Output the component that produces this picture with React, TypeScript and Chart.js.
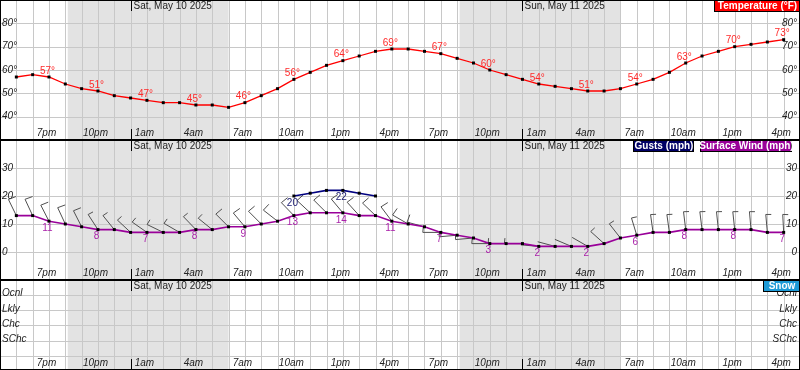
import React, { useEffect, useRef } from 'react';
import { Chart, registerables } from 'chart.js';
Chart.register(...registerables);

// Hours are counted from 5pm Fri May 9 (index 0) to 4pm Sun May 11 (index 47)
const temperature = [57, 58, 57, 54, 52, 51, 49, 48, 47, 46, 46, 45, 45, 44, 46, 49, 52, 56, 59, 62, 64, 66, 68, 69, 69, 68, 67, 65, 63, 60, 58, 56, 54, 53, 52, 51, 51, 52, 54, 56, 59, 63, 66, 68, 70, 71, 72, 73];
const surfaceWind = [13, 13, 11, 10, 9, 8, 8, 7, 7, 7, 7, 8, 8, 9, 9, 10, 11, 13, 14, 14, 14, 13, 13, 11, 10, 9, 7, 6, 5, 3, 3, 3, 2, 2, 2, 2, 3, 5, 6, 7, 7, 8, 8, 8, 8, 8, 7, 7];
const gusts: (number | null)[] = [null, null, null, null, null, null, null, null, null, null, null, null, null, null, null, null, null, 20, 21, 22, 22, 21, 20, null, null, null, null, null, null, null, null, null, null, null, null, null, null, null, null, null, null, null, null, null, null, null, null, null];
const windDirection = [334, 335, 333, 335, 333, 327, 321, 313, 305, 296, 300, 316, 309, 315, 320, 315, 308, 316, 313, 315, 320, 318, 314, 323, 300, 285, 270, 265, 265, 270, 270, 270, 275, 285, 293, 300, 312, 322, 343, 352, 352, 353, 353, 354, 354, 355, 355, 357];

const tickLabels = ['7pm', '10pm', '1am', '4am', '7am', '10am', '1pm', '4pm', '7pm', '10pm', '1am', '4am', '7am', '10am', '1pm', '4pm'];
const firstTickIndex = 2;
const tickEvery = 3;
const dayNames = ['Sat, May 10 2025', 'Sun, May 11 2025'];
const dayStartIndex = [7, 31];
const nightStart = [3.15, 27.15];
const nightEnd = [13, 37];

const tempTicks = [40, 50, 60, 70, 80];
const windTicks = [0, 10, 20, 30];
const chanceNames = ['SChc', 'Chc', 'Lkly', 'Ocnl'];
const chanceLevels = [2, 3, 4, 5];

const GRID = '#c8c8c8';
const NIGHT = '#e3e3e3';
const FAM = '"Liberation Sans", Arial, sans-serif';
const F_IT = `italic 10px ${FAM}`;
const F_REG = `10px ${FAM}`;
const F_BOLD = `bold 10px ${FAM}`;

type Legend = { text: string; color: string; left: number; right: number };
type PointLabels = { values: (number | null)[]; color: string; dy: number };
type PanelCfg = {
  name: string;
  gridValues: number[];
  yLabels: { v: number; text: string }[];
  legends: Legend[];
  pointLabels: PointLabels[];
  barbs?: boolean;
};

function drawBarb(ctx: CanvasRenderingContext2D, x0: number, y0: number, mph: number, dir: number) {
  const L = 18;
  const rad = (dir * Math.PI) / 180;
  const ux = Math.sin(rad), uy = -Math.cos(rad);
  const ex = x0 + ux * L, ey = y0 + uy * L;
  ctx.beginPath();
  ctx.moveTo(x0, y0);
  ctx.lineTo(ex, ey);
  const kt = mph * 0.869;
  let r = Math.round(kt / 5) * 5;
  const b = ((dir + 95) * Math.PI) / 180;
  const bx = Math.sin(b), by = -Math.cos(b);
  let pos = 0;
  while (r >= 10) {
    const sx = ex - ux * pos, sy = ey - uy * pos;
    ctx.moveTo(sx, sy);
    ctx.lineTo(sx + bx * 8, sy + by * 8);
    pos += 3;
    r -= 10;
  }
  if (r >= 5) {
    const sx = ex - ux * pos, sy = ey - uy * pos;
    ctx.moveTo(sx, sy);
    ctx.lineTo(sx + bx * 5.5, sy + by * 5.5);
  }
  ctx.stroke();
}

function panelPlugin(cfg: PanelCfg) {
  return {
    id: 'panel_' + cfg.name,
    beforeDraw(chart: any) {
      const { ctx, chartArea: a, scales } = chart;
      const x = scales.x, y = scales.y;
      ctx.save();
      ctx.fillStyle = '#fff';
      ctx.fillRect(0, 0, chart.width, chart.height);
      ctx.fillStyle = NIGHT;
      nightStart.forEach((s, k) => {
        const x0 = x.getPixelForValue(s), x1 = x.getPixelForValue(nightEnd[k]);
        ctx.fillRect(x0, a.top, x1 - x0, a.bottom - a.top);
      });
      ctx.strokeStyle = GRID;
      ctx.lineWidth = 1;
      ctx.beginPath();
      for (let h = -1; h <= 48; h++) {
        const xx = Math.round(x.getPixelForValue(h)) + 0.5;
        ctx.moveTo(xx, a.top);
        ctx.lineTo(xx, a.bottom);
      }
      cfg.gridValues.forEach((v) => {
        const yy = Math.round(y.getPixelForValue(v)) + 0.5;
        ctx.moveTo(a.left, yy);
        ctx.lineTo(a.right, yy);
      });
      ctx.stroke();
      if (cfg.barbs) {
        ctx.strokeStyle = '#505050';
        ctx.lineWidth = 1;
        surfaceWind.forEach((s, i) => {
          drawBarb(ctx, x.getPixelForValue(i), y.getPixelForValue(s), s, windDirection[i]);
        });
      }
      ctx.restore();
    },
    afterDatasetsDraw(chart: any) {
      const { ctx, chartArea: a, scales } = chart;
      const x = scales.x, y = scales.y;
      ctx.save();
      // point value labels
      ctx.font = F_REG;
      ctx.textAlign = 'center';
      ctx.textBaseline = 'middle';
      cfg.pointLabels.forEach((pl) => {
        ctx.fillStyle = pl.color;
        for (let i = firstTickIndex; i < pl.values.length; i += tickEvery) {
          const v = pl.values[i];
          if (v === null || v === undefined) continue;
          const suffix = cfg.name === 'temp' ? '°' : '';
          ctx.fillText(String(v) + suffix, x.getPixelForValue(i) - 1.5, y.getPixelForValue(v) + pl.dy);
        }
      });
      // tick labels
      ctx.font = F_IT;
      ctx.fillStyle = '#222';
      tickLabels.forEach((t, k) => {
        const idx = firstTickIndex + k * tickEvery;
        ctx.fillText(t, x.getPixelForValue(idx) - 2.5, a.bottom - 6.5);
      });
      // day labels and midnight bars
      ctx.strokeStyle = '#000';
      ctx.lineWidth = 1;
      dayStartIndex.forEach((d, k) => {
        const xx = Math.round(x.getPixelForValue(d)) + 0.5;
        ctx.beginPath();
        ctx.moveTo(xx, a.top);
        ctx.lineTo(xx, a.top + 11);
        ctx.moveTo(xx, a.bottom - 11);
        ctx.lineTo(xx, a.bottom - 1);
        ctx.stroke();
        ctx.font = F_REG;
        ctx.textAlign = 'left';
        ctx.fillStyle = '#222';
        ctx.fillText(dayNames[k], xx + 2, a.top + 6.5);
      });
      // y labels both sides
      ctx.font = F_IT;
      ctx.fillStyle = '#222';
      cfg.yLabels.forEach((l) => {
        const yy = y.getPixelForValue(l.v);
        ctx.textAlign = 'left';
        ctx.fillText(l.text, 2, yy);
        ctx.textAlign = 'right';
        ctx.fillText(l.text, a.right - 3, yy);
      });
      // legend boxes
      ctx.font = F_BOLD;
      ctx.textAlign = 'center';
      cfg.legends.forEach((lg) => {
        ctx.fillStyle = lg.color;
        ctx.fillRect(lg.left, a.top, lg.right - lg.left, 12);
        ctx.strokeStyle = '#000';
        ctx.strokeRect(lg.left - 0.5, a.top + 0.5, lg.right - lg.left, 11);
        ctx.fillStyle = '#fff';
        ctx.fillText(lg.text, (lg.left + lg.right) / 2, a.top + 6.5);
      });
      ctx.restore();
    },
  };
}

function baseOptions(ymin: number, ymax: number): any {
  return {
    responsive: false,
    animation: false,
    events: [],
    layout: { padding: 0, autoPadding: false },
    plugins: { legend: { display: false }, tooltip: { enabled: false } },
    scales: {
      x: { type: 'linear', display: false, min: -1, max: 48 },
      y: { type: 'linear', display: false, min: ymin, max: ymax },
    },
  };
}

const pts = (arr: (number | null)[]) => arr.map((v, i) => ({ x: i, y: v }));

export default function App() {
  const r1 = useRef<HTMLCanvasElement>(null);
  const r2 = useRef<HTMLCanvasElement>(null);
  const r3 = useRef<HTMLCanvasElement>(null);

  useEffect(() => {
    const pointStyle = { pointStyle: 'rect', pointRadius: 2.1, pointBackgroundColor: '#000', pointBorderWidth: 0, tension: 0 };
    const c1 = new Chart(r1.current!, {
      type: 'line',
      data: { datasets: [{ data: pts(temperature), borderColor: '#ff0000', borderWidth: 1.3, ...pointStyle } as any] },
      options: baseOptions(30, 90),
      plugins: [panelPlugin({
        name: 'temp',
        gridValues: tempTicks,
        yLabels: tempTicks.map((v) => ({ v, text: v + '°' })),
        legends: [{ text: 'Temperature (°F)', color: '#ff0000', left: 715, right: 800 }],
        pointLabels: [{ values: temperature, color: '#ff2a2a', dy: -6 }],
      })],
    });
    const c2 = new Chart(r2.current!, {
      type: 'line',
      data: {
        datasets: [
          { data: pts(surfaceWind), borderColor: '#990099', borderWidth: 1.6, ...pointStyle } as any,
          { data: pts(gusts), borderColor: '#000080', borderWidth: 1.6, spanGaps: false, ...pointStyle } as any,
        ],
      },
      options: baseOptions(-10, 40),
      plugins: [panelPlugin({
        name: 'wind',
        gridValues: windTicks,
        yLabels: windTicks.map((v) => ({ v, text: String(v) })),
        legends: [
          { text: 'Gusts (mph)', color: '#000066', left: 634, right: 694 },
          { text: 'Surface Wind (mph)', color: '#990099', left: 701, right: 792 },
        ],
        pointLabels: [
          { values: surfaceWind, color: '#aa22aa', dy: 7 },
          { values: gusts, color: '#1a1a70', dy: 7 },
        ],
        barbs: true,
      })],
    });
    const c3 = new Chart(r3.current!, {
      type: 'line',
      data: { datasets: [] },
      options: baseOptions(0.1, 5.95),
      plugins: [panelPlugin({
        name: 'snow',
        gridValues: [1, 2, 3, 4, 5],
        yLabels: chanceNames.map((n, k) => ({ v: chanceLevels[k] + 0.08, text: n })),
        legends: [{ text: 'Snow', color: '#1e9ad6', left: 764, right: 800 }],
        pointLabels: [],
      })],
    });
    return () => {
      c1.destroy();
      c2.destroy();
      c3.destroy();
    };
  }, []);

  const abs = { position: 'absolute' as const, left: 0 };
  return (
    <div style={{ position: 'absolute', left: 0, top: 0, width: 800, height: 370, background: '#fff', overflow: 'hidden' }}>
      <canvas ref={r1} width={800} height={140} style={{ ...abs, top: 0 }} />
      <canvas ref={r2} width={800} height={140} style={{ ...abs, top: 140 }} />
      <canvas ref={r3} width={800} height={90} style={{ ...abs, top: 280 }} />
      <div style={{ ...abs, top: 139, width: 800, height: 2, background: '#000' }} />
      <div style={{ ...abs, top: 279, width: 800, height: 2, background: '#000' }} />
      <div style={{ ...abs, top: 0, width: 800, height: 370, boxSizing: 'border-box', border: '1px solid #000', pointerEvents: 'none' }} />
    </div>
  );
}
